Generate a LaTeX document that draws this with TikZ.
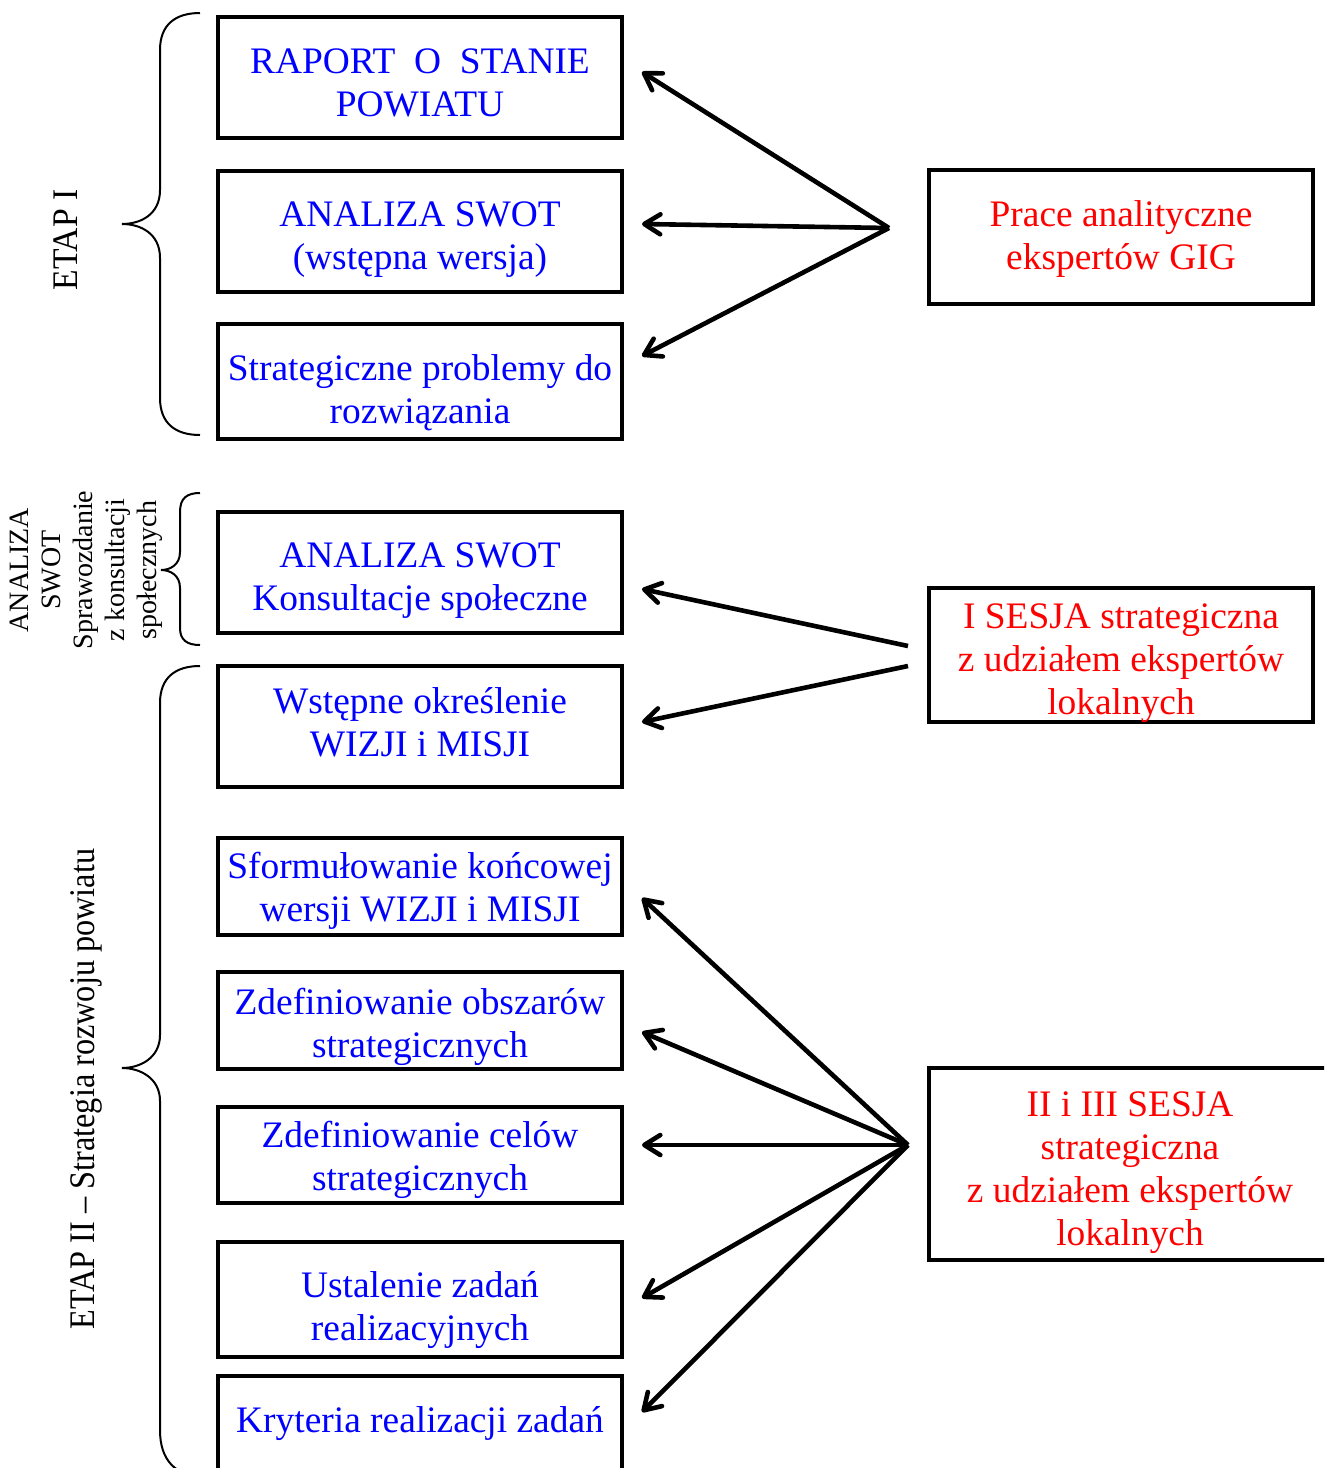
\documentclass[tikz,border=0pt]{standalone}
\usepackage{fontspec}
\setmainfont{Liberation Serif}
\usetikzlibrary{arrows.meta,calc}
\definecolor{txtblue}{RGB}{0,0,255}
\definecolor{txtred}{RGB}{255,0,0}
\begin{document}
\begin{tikzpicture}[x=0.5pt,y=-0.5pt,
  box/.style={draw=black,line width=2.2pt,rectangle,inner sep=0pt,outer sep=0pt,minimum width=202pt},
  rbox/.style={draw=black,line width=2.2pt,rectangle,inner sep=0pt,outer sep=0pt,minimum width=192pt},
  btxt/.style={inner sep=0pt,align=center,text=txtblue,font=\fontsize{18.7}{21.5}\selectfont},
  rtxt/.style={inner sep=0pt,align=center,text=txtred,font=\fontsize{18.7}{21.5}\selectfont},
  arr/.style={line width=2.3pt,-{Straight Barb[length=8pt,width=10pt,line cap=round,line join=round]}},
  brace/.style={line width=1pt},
  lbl/.style={rotate=90,align=center,inner sep=0pt,font=\fontsize{18}{21.5}\selectfont},
  slbl/.style={rotate=90,align=center,inner sep=0pt,font=\fontsize{14}{16}\selectfont}]
\useasboundingbox (0,0) rectangle (1324,1468);
\clip (0,0) rectangle (1324,1468);
% left boxes
\node[box,minimum height=60.5pt] (b1) at (420,77.5) {};
\node[box,minimum height=60.5pt] (b2) at (420,231.5) {};
\node[box,minimum height=57.5pt] (b3) at (420,381.5) {};
\node[box,minimum height=60.5pt] (b4) at (420,572.5) {};
\node[box,minimum height=60.5pt] (b5) at (420,726.5) {};
\node[box,minimum height=48.5pt] (b6) at (420,886.5) {};
\node[box,minimum height=48.5pt] (b7) at (420,1020.5) {};
\node[box,minimum height=48pt] (b8) at (420,1155) {};
\node[box,minimum height=57.5pt] (b9) at (420,1299.5) {};
\node[box,minimum height=52pt] (b10) at (420,1428) {};
% left box texts
\node[btxt] (t1) at ([shift={(0,5)}]b1.center) {RAPORT\ \ O\ \ STANIE\\POWIATU};
\node[btxt] (t2) at ([shift={(0,8)}]b2.center) {ANALIZA SWOT\\(wstępna wersja)};
\node[btxt] (t3) at ([shift={(0,11)}]b3.center) {Strategiczne problemy do\\rozwiązania};
\node[btxt] (t4) at ([shift={(0,8)}]b4.center) {ANALIZA SWOT\\Konsultacje społeczne};
\node[btxt] (t5) at ([shift={(0,-4)}]b5.center) {Wstępne określenie\\WIZJI i MISJI};
\node[btxt] (t6) at ([shift={(0,4)}]b6.center) {Sformułowanie końcowej\\wersji WIZJI i MISJI};
\node[btxt] (t7) at ([shift={(0,6)}]b7.center) {Zdefiniowanie obszarów\\strategicznych};
\node[btxt] (t8) at ([shift={(0,5)}]b8.center) {Zdefiniowanie celów\\strategicznych};
\node[btxt] (t9) at ([shift={(0,11)}]b9.center) {Ustalenie zadań\\realizacyjnych};
\node[btxt] (t10) at ([shift={(0,-4)}]b10.center) {Kryteria realizacji zadań};
% right boxes
\node[rbox,minimum height=67pt] (r1) at (1121,237) {};
\node[rbox,minimum height=67pt] (r2) at (1121,655) {};
\node[rbox,minimum height=96pt,minimum width=201pt] (r3) at (1130,1164) {};
\node[rtxt] (s1) at ([shift={(0,2)}]r1.center) {Prace analityczne\\ekspertów GIG};
\node[rtxt] (s2) at ([shift={(0,8)}]r2.center) {I SESJA strategiczna\\z udziałem ekspertów\\lokalnych};
\node[rtxt] (s3) at ([shift={(0,9)}]r3.center) {II i III SESJA\\strategiczna\\z udziałem ekspertów\\lokalnych};
% hubs
\coordinate (h1) at (889,228);
\coordinate (h2a) at (908,646);
\coordinate (h2b) at (908,666);
\coordinate (h3) at (908,1145);
% arrows
\draw[arr] (h1) -- ([shift={(20,-5.5)}]b1.east);
\draw[arr] (h1) -- ([shift={(20,-7.5)}]b2.east);
\draw[arr] (h1) -- ([shift={(20,-25.5)}]b3.east);
\draw[arr] (h2a) -- ([shift={(20,16.5)}]b4.east);
\draw[arr] (h2b) -- ([shift={(20,-4.5)}]b5.east);
\draw[arr] (h3) -- ([shift={(20,11.5)}]b6.east);
\draw[arr] (h3) -- ([shift={(20,11.5)}]b7.east);
\draw[arr] (h3) -- ([shift={(20,-10)}]b8.east);
\draw[arr] (h3) -- ([shift={(20,-1.5)}]b9.east);
\draw[arr] (h3) -- ([shift={(20,-16)}]b10.east);
% braces
\draw[brace] (200,13) .. controls (175,13) and (160,25) .. (160,50) -- (160,190)
  .. controls (160,215) and (140,224) .. (122,224)
  .. controls (140,224) and (160,233) .. (160,258) -- (160,398)
  .. controls (160,423) and (175,435) .. (200,435);
\draw[brace] (200,493) .. controls (187,493) and (180,498) .. (180,512) -- (180,552)
  .. controls (180,565) and (170,570) .. (161,570)
  .. controls (170,570) and (180,575) .. (180,588) -- (180,628)
  .. controls (180,640) and (187,645) .. (200,645);
\draw[brace] (200,666) .. controls (175,666) and (160,678) .. (160,703) -- (160,1035)
  .. controls (160,1058) and (140,1068) .. (122,1068)
  .. controls (140,1068) and (160,1078) .. (160,1101) -- (160,1430)
  .. controls (160,1460) and (175,1476) .. (205,1478);
% side labels
\node[lbl] (l1) at (66,240) {\scalebox{0.935}[1]{ETAP I}};
\node[slbl] (l2) at (86,570) {ANALIZA\\SWOT\\Sprawozdanie\\z konsultacji\\społecznych};
\node[lbl] (l3) at (86,1089) {\scalebox{0.897}[1]{ETAP II – Strategia rozwoju powiatu}};
\end{tikzpicture}
\end{document}
